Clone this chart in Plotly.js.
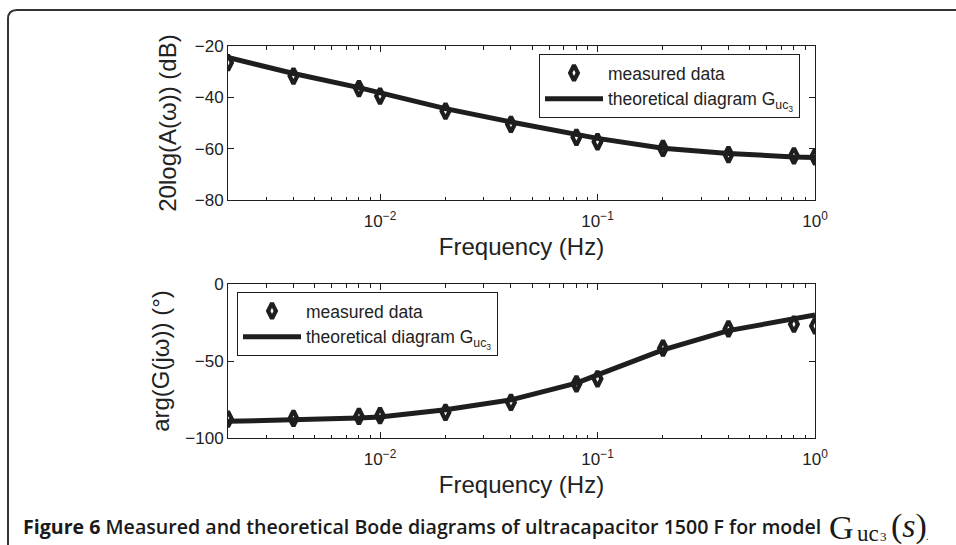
<!DOCTYPE html>
<html><head><meta charset="utf-8">
<script src="https://cdn.plot.ly/plotly-3.0.1.min.js"></script>
<style>
html,body{margin:0;padding:0;background:#fff;}
#chart{width:956px;height:545px;}
#chart path.point, #chart path.scatterpts{stroke-miterlimit:2;}
</style>
</head><body><div id="chart"></div>
<script>
// Data
var freq = [0.002, 0.004, 0.008, 0.01, 0.02, 0.04, 0.08, 0.1, 0.2, 0.4, 0.8, 1.0];
var magMeasured = [-26.5, -31.7, -36.6, -39.5, -45.4, -50.5, -55.6, -57.3, -59.9, -62.3, -62.8, -63.2];
var magTheoretical = [-24.5, -30.7, -36.2, -38.3, -44.4, -49.6, -54.7, -56.0, -59.8, -61.9, -63.2, -63.4];
var phaseMeasured = [-87.7, -87.3, -86.0, -85.5, -83.4, -76.9, -64.8, -61.6, -41.7, -29.2, -26.1, -27.2];
var phaseTheoretical = [-89.2, -88.4, -87.0, -86.4, -81.7, -75.2, -64.4, -59.0, -42.8, -30.3, -22.9, -20.1];
var freqTickVals = [0.01, 0.1, 1];
var freqTickText = ['10<sup>−2</sup>', '10<sup>−1</sup>', '10<sup>0</sup>'];
var magTicks = [-80, -60, -40, -20];
var phaseTicks = [-100, -50, 0];
var legendMeasured = 'measured data';
var legendTheoretical = 'theoretical diagram G<sub>uc<sub>3</sub></sub>';

var W = 956, H = 545, ML = 228, MR = 141, MT = 46, MB = 107;
var PW = W - ML - MR, PH = H - MT - MB;
function px(x){ return (x - ML) / PW; }
function py(y){ return (H - MB - y) / PH; }

var ink = '#1e1e1e';
var markerStyle = {symbol: 'diamond-tall-open', size: 11, color: ink, line: {width: 4.2, color: ink}};
var lineStyle = {color: ink, width: 5};

var traces = [
  {x: freq, y: magMeasured, type: 'scatter', mode: 'markers', name: legendMeasured, marker: markerStyle, xaxis: 'x', yaxis: 'y', legend: 'legend'},
  {x: freq, y: magTheoretical, type: 'scatter', mode: 'lines', name: legendTheoretical, line: lineStyle, xaxis: 'x', yaxis: 'y', legend: 'legend'},
  {x: freq, y: phaseMeasured, type: 'scatter', mode: 'markers', name: legendMeasured, marker: markerStyle, xaxis: 'x2', yaxis: 'y2', legend: 'legend2'},
  {x: freq, y: phaseTheoretical, type: 'scatter', mode: 'lines', name: legendTheoretical, line: lineStyle, xaxis: 'x2', yaxis: 'y2', legend: 'legend2'}
];

var font = '"Liberation Sans", Arial, Helvetica, sans-serif';
function xax(anchor){
  return {
    type: 'log', range: [Math.log10(0.002), 0],
    tickmode: 'array', tickvals: freqTickVals, ticktext: freqTickText,
    anchor: anchor, domain: [0, 1],
    showline: true, mirror: 'ticks', linecolor: ink, linewidth: 1,
    ticks: 'inside', ticklen: 6, tickcolor: ink, showgrid: false, zeroline: false,
    ticklabelstandoff: 6,
    minor: {ticks: 'inside', ticklen: 3.5, tickcolor: ink, showgrid: false, dtick: 'D1'},
    tickfont: {family: font, size: 17, color: '#222'},
    title: {text: 'Frequency (Hz)', font: {family: font, size: 24, color: '#222'}, standoff: 7}
  };
}
function yax(anchor, domain, range, ticks, title, standoff){
  return {
    anchor: anchor, domain: domain, range: range, tickmode: 'array', tickvals: ticks,
    showline: true, mirror: 'ticks', linecolor: ink, linewidth: 1,
    ticks: 'inside', ticklen: 6, tickcolor: ink, showgrid: false, zeroline: false,
    tickfont: {family: font, size: 17, color: '#222'},
    title: {text: title, font: {family: font, size: 24, color: '#222'}, standoff: standoff}
  };
}

var legendBase = {
  bgcolor: '#fff', bordercolor: ink, borderwidth: 1,
  font: {family: font, size: 17.5, color: '#222'},
  itemwidth: 58, tracegroupgap: 0, xanchor: 'left', yanchor: 'top'
};

var capColor = '#1a1a1a';
var serif = '"Liberation Serif", "Times New Roman", serif';
var layout = {
  width: W, height: H,
  margin: {l: ML, r: MR, t: MT, b: MB},
  paper_bgcolor: '#fff', plot_bgcolor: '#fff',
  showlegend: true,
  xaxis: xax('y'),
  yaxis: yax('x', [py(200), 1], [-80, -20], magTicks, '20log(A(ω)) (dB)', 11),
  xaxis2: xax('y2'),
  yaxis2: yax('x2', [0, py(284)], [-100, 0], phaseTicks, 'arg(G(jω)) (°)', 8),
  legend: Object.assign({}, legendBase, {x: px(539), y: py(54)}),
  legend2: Object.assign({}, legendBase, {x: px(237), y: py(292)}),
  shapes: [
    {type: 'path', xref: 'paper', yref: 'paper', layer: 'above',
     path: 'M' + px(8) + ',' + py(550) + ' L' + px(8) + ',' + py(19) +
           ' Q' + px(8) + ',' + py(10) + ' ' + px(17) + ',' + py(10) +
           ' L' + px(960) + ',' + py(10),
     line: {color: '#333', width: 2}}
  ],
  annotations: [
    {xref: 'paper', yref: 'paper', x: px(21), y: py(526), xanchor: 'left', yanchor: 'middle', showarrow: false,
     text: '<b>Figure 6</b> Measured and theoretical Bode diagrams of ultracapacitor 1500 F for model',
     font: {family: '"Open Sans", sans-serif', size: 19.6, color: capColor, weight: 600}},
    {xref: 'paper', yref: 'paper', x: px(827), y: py(527), xanchor: 'left', yanchor: 'middle', showarrow: false,
     text: 'G', font: {family: serif, size: 34, color: capColor}},
    {xref: 'paper', yref: 'paper', x: px(855), y: py(533), xanchor: 'left', yanchor: 'middle', showarrow: false,
     text: 'uc', font: {family: serif, size: 23, color: capColor}},
    {xref: 'paper', yref: 'paper', x: px(878), y: py(536), xanchor: 'left', yanchor: 'middle', showarrow: false,
     text: '3', font: {family: serif, size: 13, color: capColor}},
    {xref: 'paper', yref: 'paper', x: px(889), y: py(526), xanchor: 'left', yanchor: 'middle', showarrow: false,
     text: '(<i>s</i>)', font: {family: serif, size: 34, color: capColor}},
    {xref: 'paper', yref: 'paper', x: px(924), y: py(536), xanchor: 'left', yanchor: 'middle', showarrow: false,
     text: '.', font: {family: serif, size: 10, color: capColor}}
  ]
};

Plotly.newPlot('chart', traces, layout, {displayModeBar: false, staticPlot: true});
</script></body></html>
